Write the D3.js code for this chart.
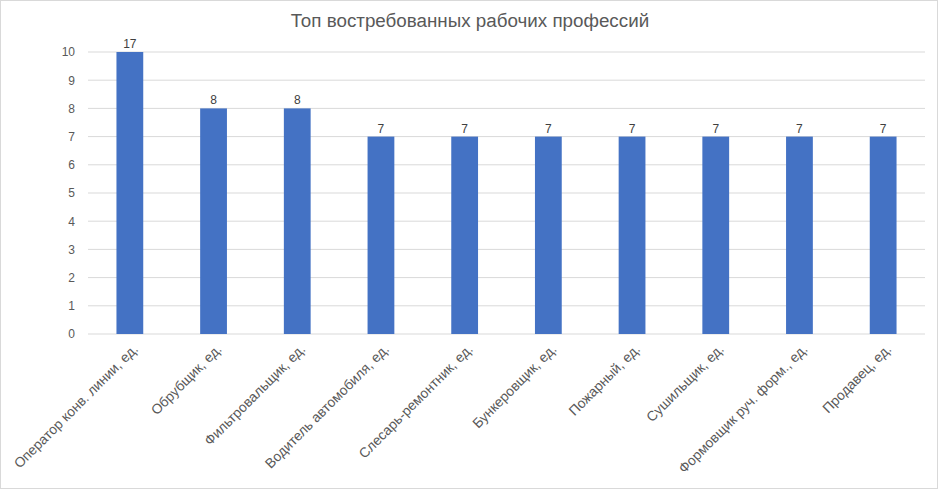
<!DOCTYPE html>
<html>
<head>
<meta charset="utf-8">
<script src="https://cdn.jsdelivr.net/npm/d3@7"></script>
<style>
	body { margin: 0; background: #fff; }
	text { font-family: "Liberation Sans", Arial, sans-serif; }
</style>
</head>
<body>
<script>
var categories = ["Оператор конв. линии, ед.", "Обрубщик, ед.", "Фильтровальщик, ед.",
	"Водитель автомобиля, ед.", "Слесарь-ремонтник, ед.", "Бункеровщик, ед.",
	"Пожарный, ед.", "Сушильщик, ед.", "Формовщик руч. форм., ед.", "Продавец, ед."];
var values = [17, 8, 8, 7, 7, 7, 7, 7, 7, 7];
var yTicks = [0, 1, 2, 3, 4, 5, 6, 7, 8, 9, 10];

(function(d3) {
	var width = 940;
	var height = 491;
	var margin = {top: 52, right: 15, bottom: 157, left: 88};

	var svg = d3.select("body").append("svg")
		.attr("width", width)
		.attr("height", height);

	svg.append("rect")
		.attr("x", 0.5).attr("y", 0.5)
		.attr("width", width - 3).attr("height", height - 3)
		.attr("fill", "#fff")
		.attr("stroke", "#d9d9d9");

	svg.append("text")
		.attr("x", 470)
		.attr("y", 27)
		.attr("text-anchor", "middle")
		.attr("font-size", "18.8px")
		.attr("fill", "#595959")
		.text("Топ востребованных рабочих профессий");

	var x = d3.scaleBand()
		.domain(categories)
		.range([margin.left, width - margin.right])
		.paddingInner(0.68)
		.paddingOuter(0.34);

	var y = d3.scaleLinear()
		.domain([0, 10])
		.range([height - margin.bottom, margin.top]);

	// gridlines
	svg.append("g")
		.selectAll("line")
		.data(yTicks)
		.enter().append("line")
		.attr("x1", margin.left)
		.attr("x2", width - margin.right)
		.attr("y1", function(d) { return y(d); })
		.attr("y2", function(d) { return y(d); })
		.attr("stroke", "#d9d9d9")
		.attr("stroke-width", 1);

	// y axis labels
	var yAxis = svg.append("g")
		.attr("transform", "translate(" + (margin.left - 13) + ",0)")
		.call(d3.axisLeft(y).tickValues(yTicks).tickSize(0).tickPadding(0));
	yAxis.select(".domain").remove();
	yAxis.selectAll("text")
		.attr("font-size", "12px")
		.attr("font-family", "Liberation Sans, Arial, sans-serif")
		.attr("fill", "#595959");

	// bars, clipped at the axis maximum
	svg.append("g")
		.selectAll("rect")
		.data(values)
		.enter().append("rect")
		.attr("x", function(d, i) { return x(categories[i]); })
		.attr("width", x.bandwidth())
		.attr("y", function(d) { return y(Math.min(d, 10)); })
		.attr("height", function(d) { return y(0) - y(Math.min(d, 10)); })
		.attr("fill", "#4472c4");

	// value labels
	svg.append("g")
		.selectAll("text")
		.data(values)
		.enter().append("text")
		.attr("x", function(d, i) { return x(categories[i]) + x.bandwidth() / 2; })
		.attr("y", function(d) { return y(Math.min(d, 10)) - 4; })
		.attr("text-anchor", "middle")
		.attr("font-size", "12px")
		.attr("fill", "#404040")
		.text(function(d) { return d; });

	// x axis labels, rotated
	var xAxis = svg.append("g")
		.attr("transform", "translate(0," + y(0) + ")")
		.call(d3.axisBottom(x).tickSize(0).tickPadding(0));
	xAxis.select(".domain").remove();
	xAxis.selectAll("text")
		.attr("font-size", "13.8px")
		.attr("font-family", "Liberation Sans, Arial, sans-serif")
		.attr("fill", "#595959")
		.attr("text-anchor", "end")
		.attr("dy", "0")
		.attr("transform", "translate(9,16) rotate(-45)");

})(d3);
</script>
</body>
</html>
